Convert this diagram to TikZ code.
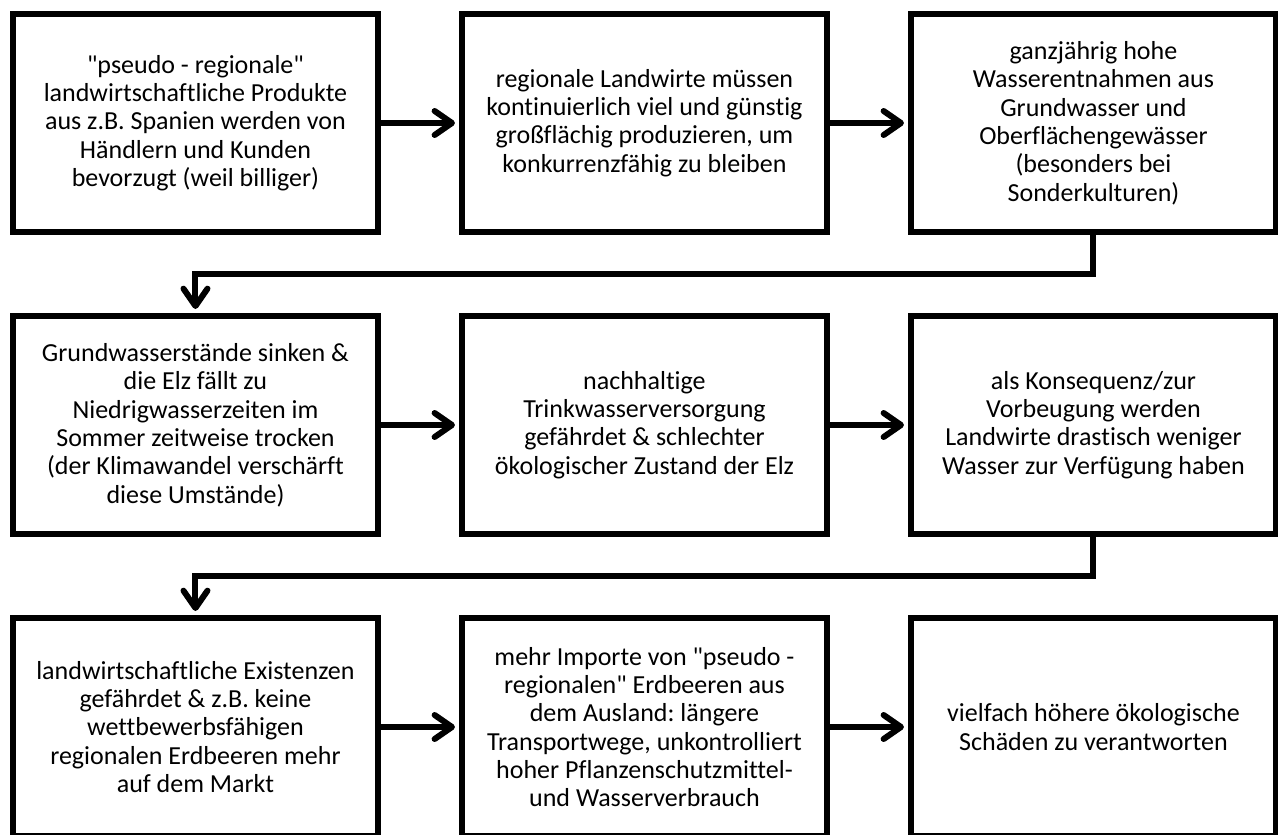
\documentclass[tikz,border=0pt]{standalone}
\usepackage{fontspec}
\setmainfont{Carlito}[Ligatures={TeX,NoCommon}]
\usetikzlibrary{arrows.meta,positioning}
\frenchspacing
\tikzset{%
       box/.style = { draw, line width=4.5pt, minimum width=273.75pt, minimum height=163.5pt,
                      align=center, inner sep=0pt, font=\fontsize{19.5}{21.25}\selectfont },
      flow/.style = { line width=4.5pt, -{Straight Barb[length=13pt,width=18pt,round]}, shorten >=3pt }
}
\begin{document}
\begin{tikzpicture}[node distance=58.5pt and 58.5pt]
\useasboundingbox (0,0) rectangle (958.5pt,-626.25pt);
% first row
\node[box] (billig) at (146.6pt,-92.25pt) {\textquotedbl pseudo - regionale\textquotedbl\\landwirtschaftliche Produkte\\aus z.B. Spanien werden von\\Händlern und Kunden\\bevorzugt (weil billiger)};
\node[box,right=of billig] (anbau) {regionale Landwirte müssen\\kontinuierlich viel und günstig\\großflächig produzieren, um\\konkurrenzfähig zu bleiben};
\node[box,right=of anbau] (entnahme) {ganzjährig hohe\\Wasserentnahmen aus\\Grundwasser und\\Oberflächengewässer\\(besonders bei\\Sonderkulturen)};
% second row
\node[box,below=of billig] (pegel) {Grundwasserstände sinken \&\\die Elz fällt zu\\Niedrigwasserzeiten im\\Sommer zeitweise trocken\\(der Klimawandel verschärft\\diese Umstände)};
\node[box,right=of pegel] (trinkwasser) {nachhaltige\\Trinkwasserversorgung\\gefährdet \& schlechter\\ökologischer Zustand der Elz};
\node[box,right=of trinkwasser] (vorbeugung) {als Konsequenz/zur\\Vorbeugung werden\\Landwirte drastisch weniger\\Wasser zur Verfügung haben};
% third row
\node[box,below=of pegel] (existenz) {landwirtschaftliche Existenzen\\gefährdet \& z.B. keine\\wettbewerbsfähigen\\regionalen Erdbeeren mehr\\auf dem Markt};
\node[box,right=of existenz] (importe) {mehr Importe von \textquotedbl pseudo -\\regionalen\textquotedbl\ Erdbeeren aus\\dem Ausland: längere\\Transportwege, unkontrolliert\\hoher Pflanzenschutzmittel-\\und Wasserverbrauch};
\node[box,right=of importe] (schaden) {vielfach höhere ökologische\\Schäden zu verantworten};
% connectors
\draw[flow] (billig) -- (anbau);
\draw[flow] (anbau) -- (entnahme);
\draw[flow] (entnahme.south) -- ++(0,-29.25pt) -| (pegel.north);
\draw[flow] (pegel) -- (trinkwasser);
\draw[flow] (trinkwasser) -- (vorbeugung);
\draw[flow] (vorbeugung.south) -- ++(0,-29.25pt) -| (existenz.north);
\draw[flow] (existenz) -- (importe);
\draw[flow] (importe) -- (schaden);
\end{tikzpicture}
\end{document}
